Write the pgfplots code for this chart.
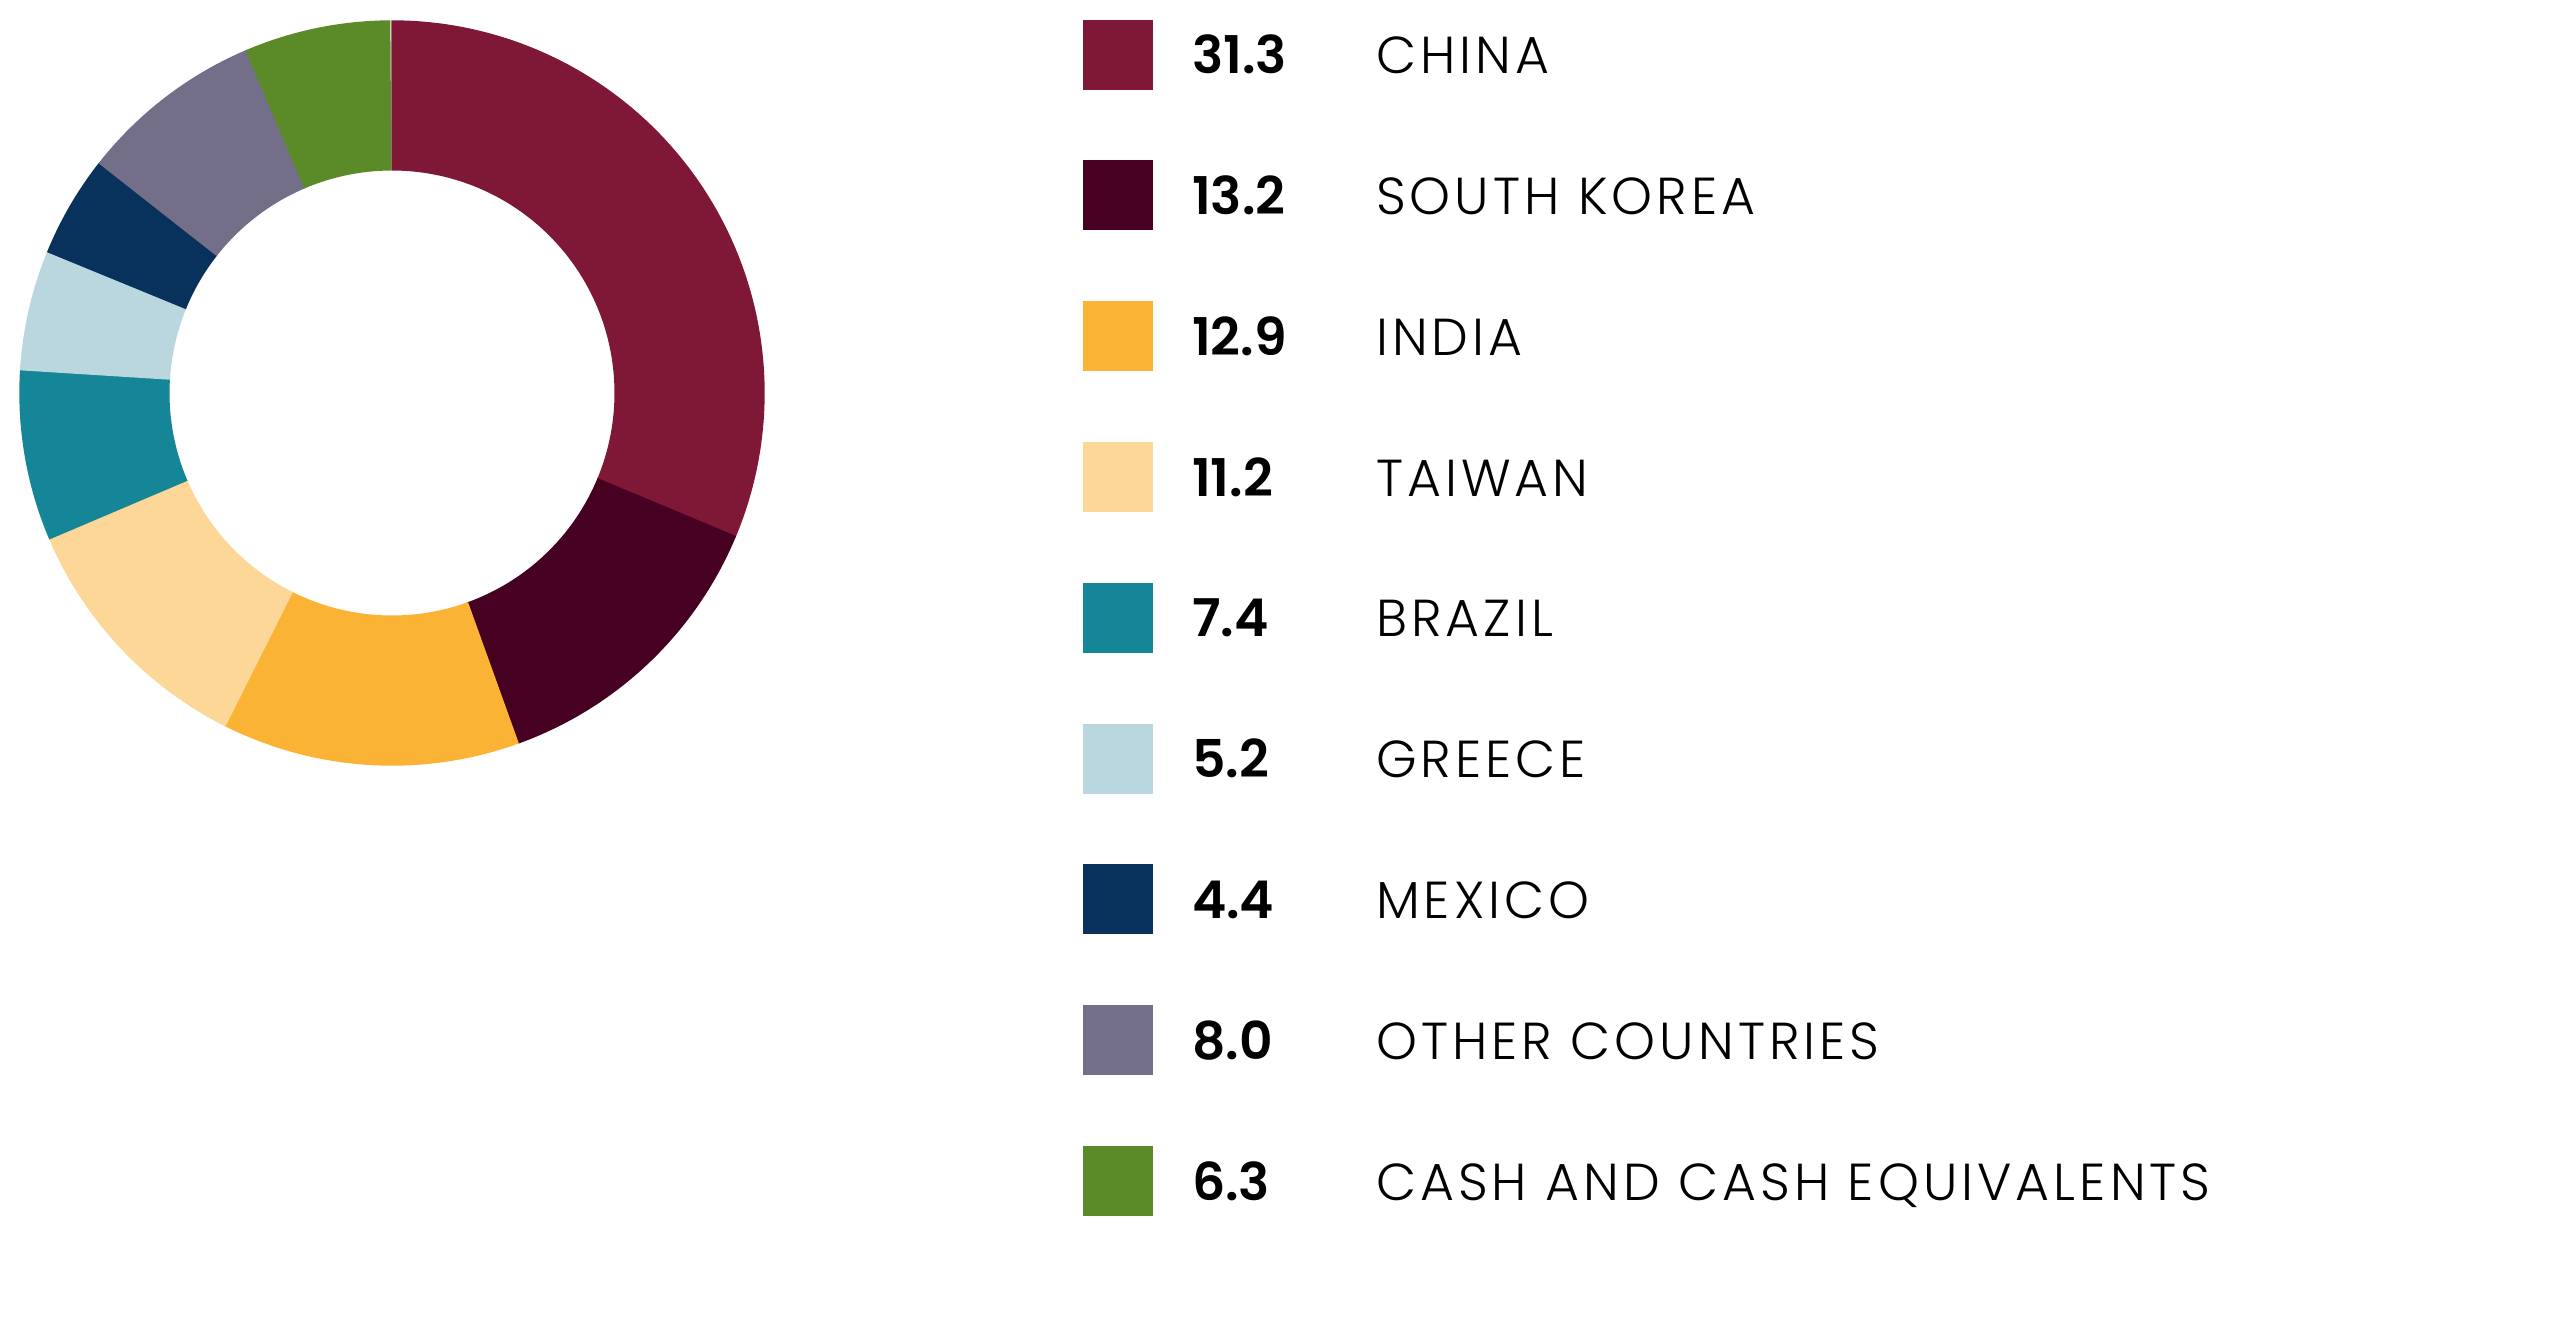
\documentclass[border=0pt]{standalone}
\usepackage{pgfplots}
\pgfplotsset{compat=1.18}
\usepackage{pgfplotstable}
\usepackage{fontspec}
\setmainfont{Poppins}
\newfontfamily\labelfont{Poppins Light}[LetterSpace=7.8]
\newfontfamily\numfont{Poppins SemiBold}

\definecolor{china}{HTML}{7F1736}
\definecolor{korea}{HTML}{450022}
\definecolor{india}{HTML}{FAB334}
\definecolor{taiwan}{HTML}{FDD797}
\definecolor{brazil}{HTML}{158598}
\definecolor{greece}{HTML}{BAD7DF}
\definecolor{mexico}{HTML}{08315B}
\definecolor{other}{HTML}{736F89}
\definecolor{cash}{HTML}{5B8A28}

% share in percent, clockwise from 12 o'clock
\pgfplotstableread[col sep=comma]{
share,name,colour
31.3,CHINA,china
13.2,SOUTH KOREA,korea
12.9,INDIA,india
11.2,TAIWAN,taiwan
7.4,BRAZIL,brazil
5.2,GREECE,greece
4.4,MEXICO,mexico
8.0,OTHER COUNTRIES,other
6.3,CASH AND CASH EQUIVALENTS,cash
}\shares

\def\rOut{3.72cm}
\def\rIn{2.232cm}
\def\ratio{0.6}

\begin{document}
\begin{tikzpicture}
\useasboundingbox (0,0) rectangle (25.6cm,13.18cm);
\begin{axis}[
    at={(0.2cm,5.53cm)}, anchor=south west,
    scale only axis, width=7.44cm, height=7.44cm,
    xmin=-1, xmax=1, ymin=-1, ymax=1,
    hide axis, clip=false,
    legend image code/.code={\fill[#1,draw=none] (0cm,-0.35cm) rectangle (0.7cm,0.35cm);},
    legend cell align=left,
    legend style={at={(1.4288,1.002)}, anchor=north west,
        draw=none, fill=none, inner sep=0pt, outer sep=0pt,
        row sep=0.708cm,
        font=\fontsize{14.8pt}{17pt}\selectfont,
        nodes={inner sep=0pt, text depth=0pt}},
]
\pgfplotstablegetrowsof{\shares}
\pgfmathtruncatemacro{\lastrow}{\pgfplotsretval-1}
\def\cum{0}
\pgfplotsforeachungrouped \i in {0,...,\lastrow}{%
    \pgfplotstablegetelem{\i}{share}\of\shares \let\val\pgfplotsretval
    \pgfplotstablegetelem{\i}{name}\of\shares \let\nam\pgfplotsretval
    \pgfplotstablegetelem{\i}{colour}\of\shares \let\col\pgfplotsretval
    \pgfmathsetmacro{\aStart}{90-3.6*\cum}
    \pgfmathsetmacro{\aEnd}{90-3.6*(\cum+\val)}
    \pgfmathsetmacro{\cum}{\cum+\val}
    \pgfmathsetmacro{\xa}{cos(\aStart)}
    \pgfmathsetmacro{\ya}{sin(\aStart)}
    \pgfmathsetmacro{\xb}{\ratio*cos(\aEnd)}
    \pgfmathsetmacro{\yb}{\ratio*sin(\aEnd)}
    \edef\slice{\noexpand\filldraw[fill=\col, draw=\col, line width=0.4pt]
        (axis cs:\xa,\ya)
        arc[start angle=\aStart, end angle=\aEnd, radius=\rOut]
        -- (axis cs:\xb,\yb)
        arc[start angle=\aEnd, end angle=\aStart, radius=\rIn] -- cycle;}
    \slice
    \edef\entry{\noexpand\addlegendimage{fill=\col}%
        \noexpand\addlegendentry{\noexpand\hspace*{0.39cm}%
        \noexpand\makebox[1.84cm][l]{\noexpand\numfont \val}%
        {\noexpand\labelfont \nam}}}
    \entry
}
\end{axis}
\end{tikzpicture}
\end{document}
